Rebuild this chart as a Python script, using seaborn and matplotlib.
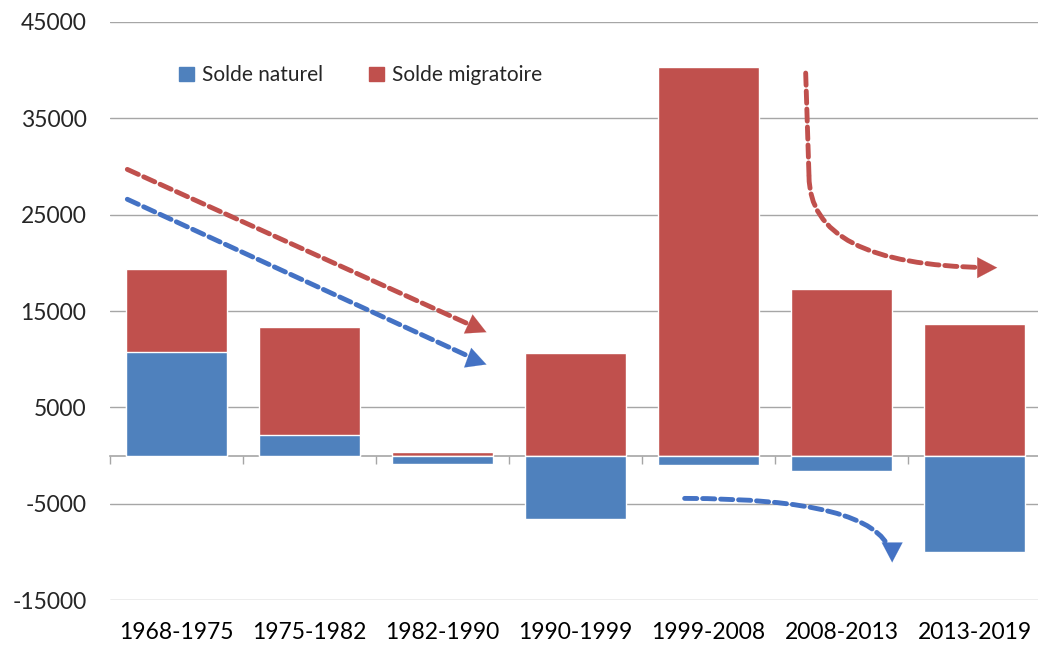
import numpy as np
import pandas as pd
import seaborn as sns
import matplotlib.pyplot as plt
from matplotlib.patches import Patch

periodes = ['1968-1975', '1975-1982', '1982-1990', '1990-1999',
            '1999-2008', '2008-2013', '2013-2019']
solde_naturel = [10700, 2100, -850, -6550, -950, -1650, -10050]
solde_migratoire = [8700, 11200, 400, 10600, 40350, 17300, 13700]
yticks = [-15000, -5000, 5000, 15000, 25000, 35000, 45000]

bleu = '#4F81BD'
rouge = '#C0504D'
bleu_fl = '#4472C4'
gris = '#a6a6a6'

df = pd.DataFrame({'periode': periodes,
                   'naturel': solde_naturel,
                   'migratoire': solde_migratoire})
# empilement facon Excel : le migratoire part du haut du naturel s'il est positif
df['haut'] = df['naturel'].clip(lower=0) + df['migratoire']

sns.set_theme(style='white')
plt.rcParams['font.family'] = ['Lato', 'DejaVu Sans']
plt.rcParams['axes.unicode_minus'] = False

fig = plt.figure(figsize=(10.38, 6.47), dpi=100)
ax = fig.add_axes([0.106, 0.0726, 0.897, 0.8934])

sns.barplot(data=df, x='periode', y='haut', color=rouge, saturation=1,
            width=0.76, ax=ax)
sns.barplot(data=df, x='periode', y='naturel', color=bleu, saturation=1,
            width=0.76, ax=ax)

ax.set_xlim(-0.5, 6.5)
ax.set_ylim(-15000, 45000)
ax.set_yticks(yticks)
ax.set_xlabel('')
ax.set_ylabel('')
ax.yaxis.grid(True, color=gris, lw=1)
ax.set_axisbelow(True)
for s in ax.spines.values():
    s.set_visible(False)
ax.tick_params(axis='y', length=0, pad=17, labelsize=16.5, labelcolor='#262626')
ax.tick_params(axis='x', length=0, pad=16, labelsize=16.5, labelcolor='#000000')

# axe horizontal a zero avec graduations entre les categories
sec = ax.secondary_xaxis(0.25)
sec.set_xticks(np.arange(-0.5, 7, 1))
sec.tick_params(axis='x', direction='out', length=6, width=1, color=gris,
                labelbottom=False)
sec.spines['bottom'].set_color(gris)
sec.spines['bottom'].set_linewidth(1.2)

handles = [Patch(color=bleu, label='Solde naturel'),
           Patch(color=rouge, label='Solde migratoire')]
ax.legend(handles=handles, loc='center left', bbox_to_anchor=(0.054, 0.908),
          ncol=2, frameon=False, fontsize=15, handlelength=0.7,
          handleheight=0.7, handletextpad=0.4, columnspacing=2.2)

# fleches en pointilles (trait pointille + pointe pleine)
def trait(debut, fin, couleur, conn='arc3', shrink=8):
    ax.annotate('', xy=fin, xytext=debut,
                arrowprops=dict(arrowstyle='-', color=couleur, lw=3.5,
                                linestyle=(0, (2.5, 1.2)), shrinkA=0,
                                shrinkB=shrink, connectionstyle=conn))

def pointe(avant, fin, couleur):
    ax.annotate('', xy=fin, xytext=avant,
                arrowprops=dict(arrowstyle='-|>,head_length=0.95,head_width=0.5',
                                mutation_scale=15, color=couleur, lw=0.1,
                                shrinkA=0, shrinkB=0))

trait((-0.37, 29700), (2.33, 12800), rouge)
pointe((2.25, 13300), (2.33, 12800), rouge)
trait((-0.37, 26600), (2.33, 9450), bleu_fl)
pointe((2.25, 9850), (2.33, 9450), bleu_fl)

trait((4.73, 39700), (4.755, 29000), rouge, shrink=0)
trait((4.755, 29000), (6.17, 19500), rouge, 'angle3,angleA=90,angleB=0')
pointe((6.05, 19500), (6.17, 19500), rouge)

trait((3.82, -4450), (5.38, -11100), bleu_fl, 'angle3,angleA=0,angleB=90')
pointe((5.38, -10300), (5.38, -11100), bleu_fl)

fig.savefig('out.png', dpi=100)
